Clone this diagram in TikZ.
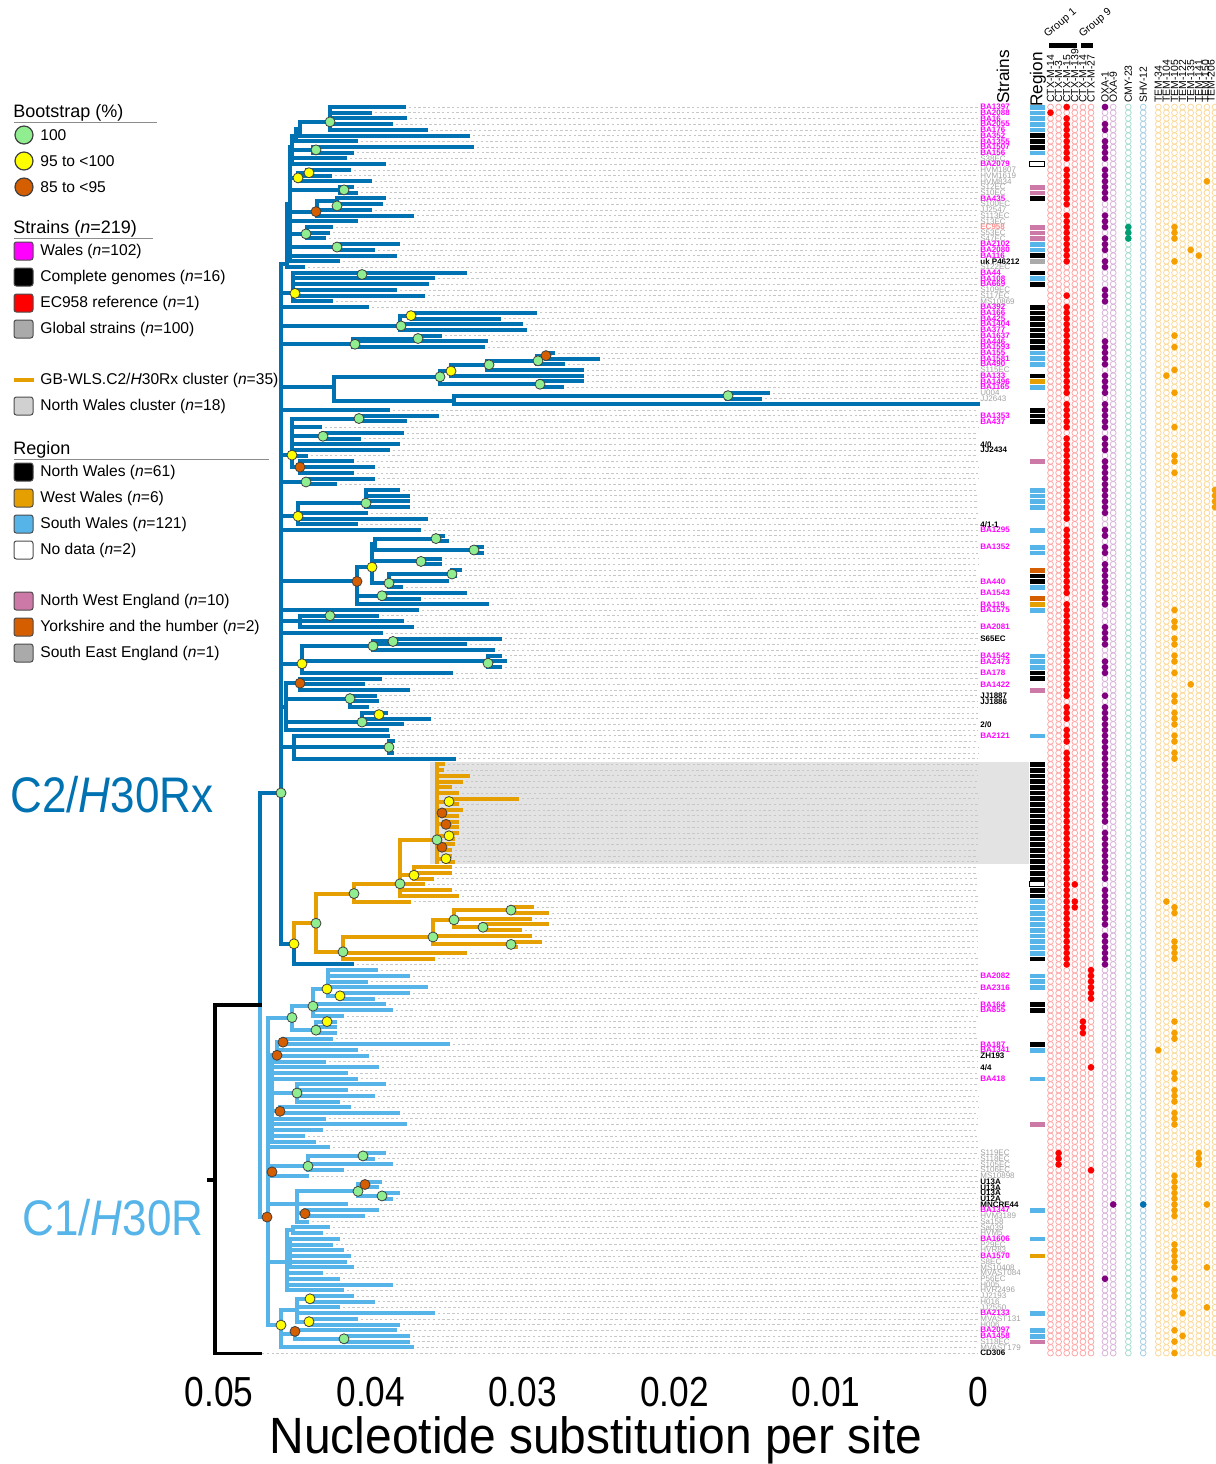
\documentclass[tikz,border=0pt]{standalone}
\usepackage{fontspec}
\setmainfont{Liberation Sans}
\usetikzlibrary{positioning}

\definecolor{ctwo}{HTML}{0072B2}
\definecolor{cone}{HTML}{56B4E9}
\definecolor{gbw}{HTML}{E69F00}
\definecolor{bg}{HTML}{90EE90}
\definecolor{by}{HTML}{FFFF00}
\definecolor{bo}{HTML}{D55E00}
\definecolor{nwe}{HTML}{CC79A7}
\definecolor{yorks}{HTML}{D55E00}
\definecolor{sexe}{HTML}{AAAAAA}
\definecolor{wal}{HTML}{FF00FF}
\definecolor{glo}{HTML}{A0A0A0}
\definecolor{cmy}{HTML}{009E73}
\definecolor{tem}{HTML}{F5A000}
\definecolor{oxa}{HTML}{800080}
\definecolor{nwbox}{HTML}{E3E3E3}

% tips: row/start/end, with the dotted guide to the labels
\newcommand\tipset[2]{%
  \foreach \r/\a/\b in {#2} {%
    \draw[guide] (\b,\r) -- (978,\r);
    \draw[#1] (\a,\r) -- (\b,\r);
  }}
\newcommand\vlines[2]{\foreach \x/\a/\b in {#2} \draw[#1] (\x,\a) -- (\x,\b);}
\newcommand\hlines[2]{\foreach \r/\a/\b in {#2} \draw[#1] (\a,\r) -- (\b,\r);}

\begin{document}
\begin{tikzpicture}[x=0.5pt,y=-0.5pt,
    br/.style={line width=2pt,line cap=rect},
    brtwo/.style={br,draw=ctwo},
    brone/.style={br,draw=cone},
    brgb/.style={br,draw=gbw},
    guide/.style={draw=black!22,line width=0.3pt,dash pattern=on 1.2pt off 1.2pt},
    boot/.style={circle,draw=black!75,line width=0.4pt,inner sep=0pt,minimum size=5pt},
    lab/.style={anchor=west,inner sep=0pt,font=\fontsize{4}{4}\selectfont\bfseries},
    labg/.style={anchor=west,inner sep=0pt,font=\fontsize{4}{4}\selectfont,text=glo},
    gene/.style={anchor=west,rotate=90,inner sep=0pt,font=\fontsize{5.2}{5.2}\selectfont},
    legh/.style={anchor=west,inner sep=0pt,font=\fontsize{9}{11}\selectfont},
    legt/.style={anchor=west,inner sep=0pt,font=\fontsize{7.8}{9}\selectfont},
    legbox/.style={draw=black!70,line width=0.5pt,rounded corners=1.2pt},
    axnum/.style={anchor=base,inner sep=0pt,font=\fontsize{21}{21}\selectfont},
  ]
\useasboundingbox (0,0) rectangle (1216,1464);

% North Wales cluster shading
\fill[nwbox] (430,762) rectangle (1030,864);

\begin{scope}[yshift=-53.5pt,y=-2.858pt]
% C2/H30Rx tips
\tipset{brtwo}{0/330/404,1/330/370,2/330/405,3/330/391,4/330/426,5/300/468,6/296/356,7/313/472,8/313/352,9/292/345,10/292/384,11/307/349,12/298/330,13/298/370,14/340/352,15/340/356,16/337/384,17/337/381,18/317/370,19/317/412,20/290/356,21/307/331,22/307/328,23/307/324,24/337/398,25/337/373,26/290/395,27/290/338,28/287/303,29/293/465,30/293/433,31/293/427,32/293/395,33/293/423,34/293/331,35/281/367,36/413/535,37/413/499,38/400/521,39/400/525,40/417/440,41/353/486,42/353/483,43/546/553,44/546/598,45/537/563,46/487/582,47/451/582,48/540/582,49/540/562,50/727/768,51/727/760,52/454/978,53/281/388,54/359/437,55/359/405,56/292/320,57/323/402,58/323/359,59/292/398,60/292/388,61/292/306,62/300/352,63/300/373,64/300/352,65/306/373,66/306/335,67/366/398,68/366/408,69/366/408,70/366/408,71/298/366,72/298/426,73/298/356,74/281/419,75/436/443,76/436/447,77/474/482,78/474/482,79/421/440,80/421/440,81/452/460,82/452/455,83/389/447,84/389/401,85/382/465,86/382/419,87/357/487,88/281/417,89/300/377,90/300/402,91/300/412,92/281/381,93/393/500,94/373/465,95/373/493,96/488/500,97/302/505,98/488/500,99/302/451,100/300/380,101/300/363,102/300/408,103/350/375,104/350/377,105/350/367,106/362/386,107/362/429,108/362/402,109/286/387,110/294/388,111/389/393,112/294/392,113/389/392,114/294/454,150/294/352}
% GB-WLS cluster tips
\tipset{brgb}{115/437/443,116/437/442,117/437/468,118/437/461,119/437/450,120/437/457,121/449/517,122/449/457,123/442/461,124/442/457,125/446/457,126/446/457,127/449/457,128/449/453,129/442/453,130/442/450,131/446/450,132/446/453,133/414/450,134/414/450,135/414/432,136/400/423,137/400/450,138/400/457,139/354/409,140/511/532,141/511/547,142/454/530,143/483/547,144/483/520,145/433/530,146/511/540,147/511/516,148/343/465,149/343/433}
% C1/H30R tips
\tipset{brone}{151/328/376,152/328/408,153/328/366,154/328/426,155/340/408,156/340/373,157/313/384,158/313/391,159/313/342,160/316/335,161/316/335,162/316/335,163/283/331,164/283/448,165/277/356,166/277/367,167/272/324,168/272/377,169/272/346,170/272/356,171/297/384,172/297/346,173/297/373,174/297/338,175/280/349,176/280/398,177/272/324,178/272/405,179/272/321,180/272/303,181/272/314,182/268/328,183/363/384,184/363/373,185/308/391,186/308/342,187/272/307,188/365/380,189/358/377,190/382/398,191/382/391,192/297/346,193/305/377,194/305/363,195/297/307,196/293/328,197/293/321,198/290/338,199/290/331,200/290/342,201/290/349,202/290/345,203/290/352,204/287/321,205/287/338,206/287/391,207/287/342,208/310/352,209/310/373,210/297/338,211/297/433,212/309/356,213/309/398,214/295/395,215/344/408,216/344/408,217/281/412}
\draw[guide] (262,218) -- (978,218);

% C2 internal branches
\vlines{brtwo}{330/0/4,300/2.6/5,296/3.8/6,292/5/10,290/7/27,287/17/28,313/7/8,298/11.5/13,340/14/15,317/16.5/19,337/16/17,307/21/23,337/24/25,281/27.5/146.4,293/29/34,413/36/37,400/36.5/39,417/40/40.5,353/40.5/42,546/43/44,537/43.5/45,487/44.4/46,451/45.1/47,540/48/49,440/46.2/48.5,727/50/51,454/50.5/52,334/47.2/51.4,359/54/55,323/57/58,292/54.5/63,300/62/64,306/65/66,366/67/70,298/69.3/73,436/75/76,474/77/78,375/75.5/77.5,421/79/80,452/81/82,389/81.7/84,372/76.5/83.3,382/85/86,357/80.5/87,300/89/91,393/93/93.5,373/93.5/95,488/96/98,302/94.3/99,300/100/102,350/103/105,362/106/108,286/100.8/109,389/111/113,294/110/114,294/146.4/150,260/120/157.1}
\hlines{brtwo}{2.6/300/330,3.8/296/300,5/292/296,7/290/292,17/287/290,27.5/281/287,7.5/292/313,12.4/290/298,11.5/298/307,14.5/290/340,18.3/290/317,16.5/317/337,22.2/290/307,24.5/290/337,32.6/281/293,36.5/400/413,38.3/281/400,40.5/353/417,41.5/281/353,43.5/537/546,44.4/487/537,45.1/451/487,46.2/440/451,48.5/440/540,47.2/334/440,50.5/454/727,51.4/334/454,49/281/334,54.5/292/359,57.6/292/323,63/292/300,60.9/281/292,65.6/281/306,69.3/298/366,71.6/281/298,75.5/375/436,77.5/375/474,76.5/372/375,79.5/372/421,81.7/389/452,83.3/372/389,80.5/357/372,85.5/357/382,83/281/357,90/281/300,93.5/373/393,94.3/302/373,97.4/281/302,100.8/286/300,103.5/286/350,107.6/286/362,104.9/281/286,112/281/294,120/260/281,146.4/281/294}
% GB-WLS cluster internal branches
\vlines{brgb}{437/115/132,449/121/122,442/123/124,446/125/126,449/127/128,442/129/130,446/131/132,414/133/135,400/128.2/138,354/135.9/139,511/140/141,454/140.5/143.5,483/143/144,433/142.2/146.5,511/146/147,343/145.2/149,316/137.6/147.8,294/142.8/146.4}
\hlines{brgb}{121.5/437/449,123.5/437/442,125.5/437/446,127.5/437/449,129.5/437/442,131.5/437/446,128.2/400/437,134.4/400/414,135.9/354/400,137.6/316/354,140.5/454/511,142.2/433/454,143.5/454/483,145.2/343/433,146.5/433/511,147.8/316/343,142.8/294/316}
% C1 internal branches
\vlines{brone}{328/151/155.5,340/155/156,313/154.3/159,292/157.3/161.5,316/160/162,283/163/164,277/163.6/166,272/165.9/181,297/171/174,280/175/176,363/183/184,308/183.5/186,272/185.3/187,365/188/188.5,382/190/191,358/188.5/190.5,305/193/194,297/189.7/195,293/196/197,290/198/203,287/196.5/207,310/208/209,309/212/213,297/208.5/212.5,344/215/216,295/214/215.5,281/210.5/217,268/159.3/213.1,260/157.1/194.2}
\hlines{brone}{154.3/313/328,155.5/328/340,157.3/292/313,159.3/268/292,161.5/292/316,163.6/277/283,165.9/272/277,172.5/272/297,175.7/272/280,174/268/272,183.5/308/363,185.3/272/308,186.3/268/272,188.5/358/365,190.5/358/382,189.7/297/358,193.5/297/305,192/268/297,196.5/287/293,200.5/287/290,202/268/287,208.5/297/310,212.5/297/309,210.5/281/297,215.5/295/344,214.7/281/295,213.1/268/281,194.2/260/268}
% root
\draw[line width=1.6pt,line cap=rect] (260,157.1) -- (215,157.1) -- (215,218) -- (260,218);
\draw[line width=1.6pt] (207,187.7) -- (215,187.7);

% bootstrap support
\foreach \x/\r/\c [count=\i] in {330/2.6/bg,316/7.5/bg,309/11.5/by,298/12.4/by,344/14.5/bg,337/17.3/bg,316/18.3/bo,306/22.2/bg,337/24.5/bg,362/29.3/bg,295/32.6/by,411/36.5/by,401/38.3/bg,418/40.5/bg,355/41.5/bg,546/43.5/bo,538/44.4/bg,489/45.1/bg,451/46.2/by,440/47.2/bg,540/48.5/bg,728/50.5/bg,359/54.5/bg,323/57.6/bg,292/60.9/by,300/63/bo,306/65.6/bg,366/69.3/bg,298/71.6/by,436/75.5/bg,474/77.5/bg,421/79.5/bg,372/80.5/by,452/81.7/bg,357/83/bo,389/83.3/bg,382/85.5/bg,330/89/bg,393/93.5/bg,373/94.3/bg,488/97.3/bg,302/97.4/by,300/100.8/bo,350/103.5/bg,379/106.3/by,362/107.6/bg,389/112/bg,281/120/bg,449/121.5/by,442/123.5/bo,446/125.5/bo,449/127.5/by,442/129.5/bo,446/131.5/by,437/128.2/bg,414/134.4/by,400/135.9/bg,354/137.6/bg,511/140.5/bg,454/142.2/bg,483/143.5/bg,433/145.2/bg,511/146.5/bg,343/147.8/bg,316/142.8/bg,294/146.4/by,327/154.3/by,340/155.5/by,313/157.3/bg,292/159.3/bg,327/160/by,316/161.5/bg,283/163.6/bo,277/165.9/bo,297/172.5/bg,280/175.7/bo,363/183.5/bg,308/185.3/bg,272/186.3/bo,365/188.5/bo,358/189.7/bg,382/190.5/bg,305/193.6/bo,267/194.2/bo,310/208.5/by,309/212.5/by,281/213.1/by,295/214.2/bo,344/215.5/bg}
  \node[boot,fill=\c] (bs\i) at (\x,\r) {};

% strain labels
\foreach \r/\t/\c in {0/BA1397/wal,1/BA2088/wal,2/BA16/wal,3/BA2055/wal,4/BA176/wal,5/BA352/wal,6/BA1355/wal,7/BA1507/wal,8/BA156/wal,10/BA2079/wal,16/BA435/wal,21/EC958/red!45,24/BA2102/wal,25/BA2080/wal,26/BA116/wal,27/uk P46212/black,29/BA44/wal,30/BA108/wal,31/BA669/wal,35/BA392/wal,36/BA166/wal,37/BA425/wal,38/BA1404/wal,39/BA377/wal,40/BA1637/wal,41/BA446/wal,42/BA1593/wal,43/BA155/wal,44/BA1581/wal,45/BA490/wal,47/BA133/wal,48/BA1496/wal,49/BA1165/wal,54/BA1353/wal,55/BA437/wal,59/{4/0}/black,60/JJ2434/black,73/{4/1-1}/black,74/BA1295/wal,77/BA1352/wal,83/BA440/wal,85/BA1543/wal,87/BA119/wal,88/BA1575/wal,91/BA2081/wal,93/S65EC/black,96/BA1542/wal,97/BA2473/wal,99/BA178/wal,101/BA1422/wal,103/JJ1887/black,104/JJ1886/black,108/{2/0}/black,110/BA2121/wal,152/BA2082/wal,154/BA2316/wal,157/BA164/wal,158/BA855/wal,164/BA187/wal,165/BA1341/wal,166/ZH193/black,168/{4/4}/black,170/BA418/wal,188/U13A/black,189/U13A/black,190/U13A/black,191/U12A/black,192/MNCRE44/black,193/BA1347/wal,198/BA1606/wal,201/BA1570/wal,211/BA2133/wal,214/BA2097/wal,215/BA1458/wal,218/CD306/black}
  \node[lab,text=\c] at (980,\r) {\t};
\foreach \r/\t in {9/S38EC,11/HVM1807,12/HVM1619,13/HVM834,14/S12EC,15/S10EC,17/S100EC,18/JJ2547,19/S113EC,20/S13EC,22/S53EC,23/S47EC,28/S122EC,32/S109EC,33/S117EC,34/MS10869,46/S115EC,50/U004,51/JJ2643,183/S119EC,184/S118EC,185/S105EC,186/S106EC,187/MS10898,194/HVM3189,195/Sa158,196/Sa039,197/HVM5,199/P29EC,200/HVR83,202/S8EC,203/MS10408,204/MVAST084,205/P56EC,206/H005,207/HVR2496,208/JJ2193,209/H016,210/JJ2550,212/MVAST131,213/H006,216/S118EC,217/MVAST179}
  \node[labg] at (980,\r) {\t};

% region bars
\foreach \c/\L in {black/{5,6,7,16,26,29,31,35,36,...,42,47,53,54,55,82,83,99,100,115,116,...,135,137,138,149,157,158,164},
    cone/{0,1,...,4,8,24,25,30,43,44,45,49,67,68,69,70,74,77,78,84,88,96,97,98,110,139,140,...,148,152,153,154,165,170,193,198,211,214,215},
    nwe/{14,15,21,22,23,62,102,178,216},gbw/{48,87,201},yorks/{81,86},sexe/{27}}
  \foreach \r in \L \filldraw[fill=\c,draw=white,line width=0.3pt] (1029,\r-0.5) rectangle (1045,\r+0.5);
\foreach \r in {10,136} \filldraw[fill=white,draw=black,line width=0.5pt] (1029.5,\r-0.45) rectangle (1044.5,\r+0.45);

% resistance genes
\foreach \x/\c in {1050.5/red!35,1058.6/red!35,1066.7/red!35,1074.8/red!35,1082.9/red!35,1091/red!35,1105/oxa!30,1113.2/oxa!30,1128.3/cmy!35,1143.2/ctwo!35,1158.3/tem!40,1166.4/tem!40,1174.5/tem!40,1182.6/tem!40,1190.7/tem!40,1198.8/tem!40,1206.9/tem!40,1215/tem!40}
  \foreach \r in {0,1,...,218} \draw[\c,line width=0.4pt] (\x,\r) circle (1.45pt);
\foreach \x/\c/\L in {1050.5/red/{1},1058.6/red/{183,184,185},
    1066.7/red/{0,2,3,...,9,11,12,...,17,19,20,...,27,33,35,36,...,50,52,53,...,56,58,59,...,72,74,75,...,85,87,88,...,103,105,106,107,109,110,111,113,114,115,...,150},
    1074.8/red/{136,139,140},1082.9/red/{160,161,162},1091/red/{151,152,...,156,168,186},
    1105/oxa/{0,3,4,6,7,8,9,11,12,...,16,19,20,21,23,24,25,27,28,32,33,34,41,42,...,45,47,48,49,50,52,53,54,55,56,58,59,60,62,63,...,71,74,75,77,78,80,81,...,87,91,92,93,94,97,98,99,103,105,106,...,125,127,128,...,135,137,138,...,143,145,146,...,150,205},
    1113.2/oxa/{192},1128.3/cmy/{21,22,23},1143.2/ctwo/{192},
    1158.3/tem/{165},1166.4/tem/{47,139},
    1174.5/tem/{21,22,23,27,40,42,46,50,56,61,62,64,88,90,91,93,94,96,97,99,103,104,106,107,108,110,111,113,114,140,141,146,147,148,149,160,162,163,169,170,172,173,174,176,177,178,187,188,...,194,199,200,...,203,205,207,208,214,216,218},
    1182.6/tem/{211,215},1190.7/tem/{25,101},1198.8/tem/{26,183,184,185},1206.9/tem/{13,192,203,210},1215/tem/{67,68,69,70}}
  \foreach \r in \L \fill[\c] (\x,\r) circle (1.65pt);
\end{scope}

% column headers
\node[gene,font=\fontsize{8.6}{8.6}\selectfont] (hstrains) at (1003,104) {Strains};
\node[gene,font=\fontsize{8.6}{8.6}\selectfont] (hregion) at (1038,107) {Region};
\foreach \x/\t in {1050.5/CTX-M-14,1058.6/CTX-M-3,1066.7/CTX-M-15,1074.8/CTX-M-139,1082.9/CTX-M-14,1091/CTX-M-27,1105/OXA-1,1113.2/OXA-9,1128.3/CMY-23,1143.2/SHV-12,1158.3/TEM-34,1166.4/TEM-104,1174.5/TEM-105,1182.6/TEM-122,1190.7/TEM-135,1198.8/TEM-141,1205.5/TEM-150,1211/TEM-206}
  \node[gene] at (\x,103) {\t};
\fill (1049,43) rectangle (1077,48);
\fill (1081,43) rectangle (1093,48);
\node[anchor=south west,rotate=40,inner sep=0pt,font=\fontsize{5.3}{5.3}\selectfont] (grpone) at (1049,40) {Group 1};
\node[anchor=south west,rotate=40,inner sep=0pt,font=\fontsize{5.3}{5.3}\selectfont] (grpnine) at (1084,40) {Group 9};

% clade names
\node[anchor=west,inner sep=0pt,text=ctwo] (ctwolab) at (10,795) {\fontsize{25}{25}\selectfont\scalebox{0.88}[1]{C2/\textit{H}30Rx}};
\node[anchor=west,inner sep=0pt,text=cone] (conelab) at (22,1218) {\fontsize{25}{25}\selectfont\scalebox{0.88}[1]{C1/\textit{H}30R}};

% legend
\node[legh] (lboot) at (13,113) {Bootstrap (\%)};
\draw[black!45,line width=0.5pt] (14,122) -- (157,122);
\foreach \y/\c/\t in {135/bg/100,161/by/95 to <100,187/bo/85 to <95} {
  \fill[\c] (24,\y) circle (4.5pt); \draw[black!75,line width=0.6pt] (24,\y) circle (4.5pt);
  \node[legt] at (40,\y) {\t};}
\node[legh] (lstrain) at (13,229) {Strains (\textit{n}=219)};
\draw[black!45,line width=0.5pt] (14,238) -- (153,238);
\foreach \y/\c/\t in {251/wal/Wales (\textit{n}=102),277/black/Complete genomes (\textit{n}=16),303/red/EC958 reference (\textit{n}=1),329/sexe/Global strains (\textit{n}=100),406/black!18/North Wales cluster (\textit{n}=18)} {
  \filldraw[legbox,fill=\c] (14,\y-9) rectangle (33,\y+9);
  \node[legt] at (40,\y) {\t};}
\draw[gbw,line width=1.6pt] (14,380) -- (34,380);
\node[legt] (lgb) at (40,380) {GB-WLS.C2/\textit{H}30Rx cluster (\textit{n}=35)};
\node[legh] (lregion) at (13,450) {Region};
\draw[black!45,line width=0.5pt] (14,459) -- (269,459);
\foreach \y/\c/\t in {472/black/North Wales (\textit{n}=61),498/gbw/West Wales (\textit{n}=6),524/cone/South Wales (\textit{n}=121),550/white/No data (\textit{n}=2),601/nwe/North West England (\textit{n}=10),627/yorks/Yorkshire and the humber (\textit{n}=2),653/sexe/South East England (\textit{n}=1)} {
  \filldraw[legbox,fill=\c] (14,\y-9) rectangle (33,\y+9);
  \node[legt] at (40,\y) {\t};}

% axis
\foreach \k in {0,1,...,25} {
  \pgfmathsetmacro\tx{219+30.36*\k}
  \pgfmathparse{mod(\k,5)==0 ? 1378 : 1368}
  \draw[line width=0.6pt,black!80] (\tx,1357) -- (\tx,\pgfmathresult);}
\foreach \j/\t in {0/0.05,1/0.04,2/0.03,3/0.02,4/0.01,5/0}
  \node[axnum] at (219+151.8*\j,1406) {\scalebox{0.84}[1]{\t}};
\node[anchor=base,inner sep=0pt] (axtitle) at (596,1453) {\fontsize{25.5}{25.5}\selectfont\scalebox{0.94}[1]{Nucleotide substitution per site}};
\end{tikzpicture}
\end{document}
